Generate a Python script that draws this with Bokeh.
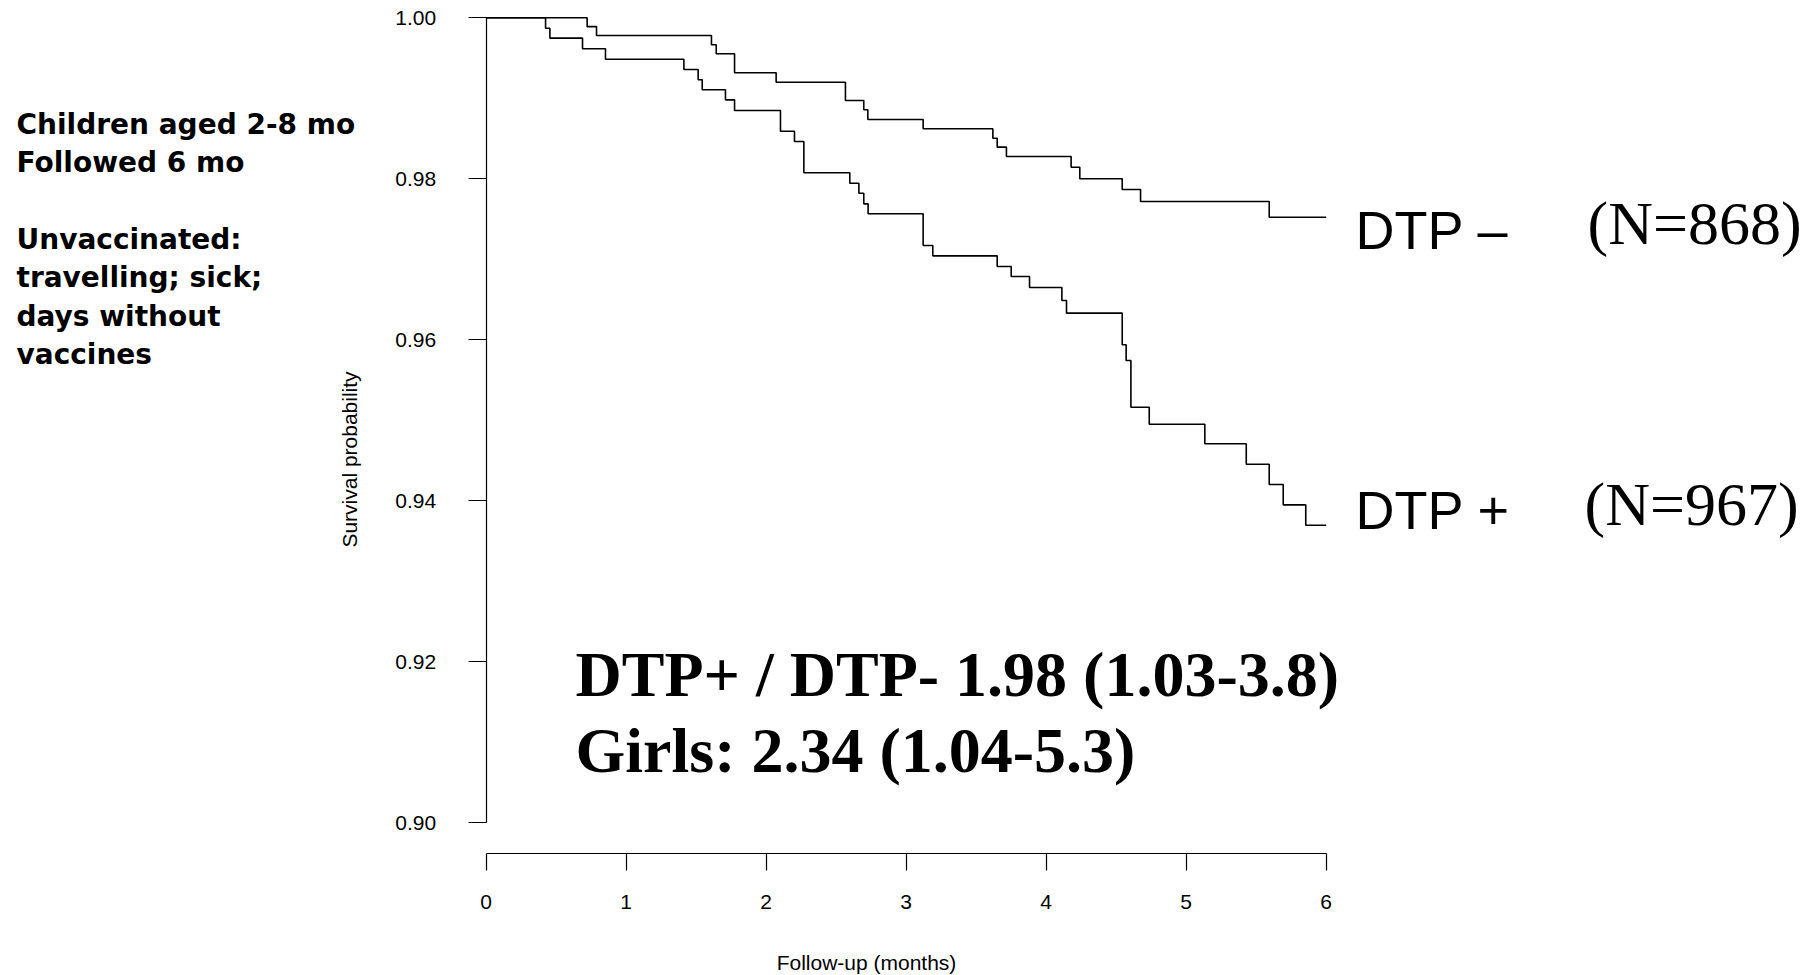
from bokeh.plotting import figure
from bokeh.models import Range1d, FixedTicker, PrintfTickFormatter, Label
from bokeh.embed import file_html
from bokeh.resources import INLINE

# ---- data (Kaplan-Meier step curves) ----
dtp_neg_t = [0, 0.721, 0.788, 1.609, 1.643, 1.774, 2.071, 2.566, 2.697, 2.726,
             3.121, 3.619, 3.650, 3.716, 4.178, 4.240, 4.543, 4.674, 5.593, 6.0]
dtp_neg_s = [1.0, 0.9989, 0.9978, 0.99665, 0.99553, 0.99317, 0.9920, 0.98973, 0.98857, 0.98737,
             0.98621, 0.98504, 0.98393, 0.98277, 0.98144, 0.9800, 0.97867, 0.97718, 0.97523, 0.97523]

dtp_pos_t = [0, 0.424, 0.455, 0.688, 0.852, 1.412, 1.514, 1.543, 1.709, 1.774,
             2.102, 2.202, 2.269, 2.597, 2.662, 2.697, 2.728, 3.121, 3.190, 3.650,
             3.750, 3.881, 4.112, 4.145, 4.543, 4.571, 4.605, 4.736, 5.133, 5.429,
             5.593, 5.693, 5.854, 6.0]
dtp_pos_s = [1.0, 0.99871, 0.99747, 0.99615, 0.99486, 0.99358, 0.9923, 0.99106, 0.98981, 0.98848,
             0.98591, 0.98463, 0.98075, 0.97945, 0.97821, 0.97689, 0.97565, 0.97171, 0.97043, 0.96911,
             0.96787, 0.9665, 0.96488, 0.96331, 0.95938, 0.95743, 0.95163, 0.94952, 0.94708, 0.94455,
             0.94203, 0.9395, 0.93697, 0.93697]

x_ticks = [0, 1, 2, 3, 4, 5, 6]
y_ticks = [0.90, 0.92, 0.94, 0.96, 0.98, 1.00]

side_lines = ["Children aged 2-8 mo", "Followed 6 mo", "",
              "Unvaccinated:", "travelling; sick;", "days without", "vaccines"]
group_labels = ["DTP \u2013", "DTP +"]
group_n = ["(N=868)", "(N=967)"]
hr_lines = ["DTP+ / DTP- 1.98 (1.03-3.8)", "Girls: 2.34 (1.04-5.3)"]

# ---- layout: canvas pixel -> data mapping ----
W, H = 1814, 975
X0_PX, PX_PER_MONTH = 485.7, 140.0
Y1_PX, UNIT_PER_PX = 17.3, 0.00012422


def dx(px):
    return (px - X0_PX) / PX_PER_MONTH


def dy(py):
    return 1.0 - (py - Y1_PX) * UNIT_PER_PX


p = figure(width=W, height=H, output_backend="svg", toolbar_location=None,
           x_range=Range1d(dx(0), dx(W)), y_range=Range1d(dy(H), dy(0)),
           min_border=0)
p.min_border_left = 0
p.min_border_right = 0
p.min_border_top = 0
p.min_border_bottom = 0
p.outline_line_color = None
p.grid.visible = False
p.background_fill_color = "white"
p.border_fill_color = "white"

# curves
p.step(dtp_neg_t, dtp_neg_s, mode="after", line_color="black", line_width=1.6)
p.step(dtp_pos_t, dtp_pos_s, mode="after", line_color="black", line_width=1.6)

# axes (R style: detached, bounded)
xa = p.xaxis[0]
xa.fixed_location = dy(853)
xa.ticker = FixedTicker(ticks=x_ticks)
xa.bounds = (0, 6)
xa.major_tick_out = 17
xa.major_tick_in = 0
xa.minor_tick_out = 0
xa.minor_tick_in = 0
xa.major_label_standoff = 24
xa.major_label_text_font = "Liberation Sans"
xa.major_label_text_font_size = "21px"
xa.major_label_text_color = "black"
xa.axis_line_color = "black"
xa.axis_line_width = 1.2
xa.major_tick_line_color = "black"
xa.major_tick_line_width = 1.2

ya = p.yaxis[0]
ya.fixed_location = 0
ya.ticker = FixedTicker(ticks=y_ticks)
ya.formatter = PrintfTickFormatter(format="%.2f")
ya.bounds = (0.90, 1.00)
ya.major_tick_out = 18
ya.major_tick_in = 0
ya.minor_tick_out = 0
ya.minor_tick_in = 0
ya.major_label_standoff = 32
ya.major_label_text_font = "Liberation Sans"
ya.major_label_text_font_size = "21px"
ya.major_label_text_color = "black"
ya.axis_line_color = "black"
ya.axis_line_width = 1.2
ya.major_tick_line_color = "black"
ya.major_tick_line_width = 1.2


def add_label(text, px, py, font, size, style="normal", align="left",
              baseline="alphabetic", angle=0):
    p.add_layout(Label(x=dx(px), y=dy(py), text=text, text_font=font,
                       text_font_size=size, text_font_style=style,
                       text_align=align, text_baseline=baseline,
                       angle=angle, text_color="black"))


# axis titles
add_label("Survival probability", 349, 459, "Liberation Sans", "21px",
          align="center", baseline="middle", angle=1.5708)
add_label("Follow-up (months)", 866, 962, "Liberation Sans", "21px",
          align="center", baseline="middle")

# side notes
side_baselines = [124, 162.3, 200.6, 239, 277, 315.7, 354]
for line, b in zip(side_lines, side_baselines):
    if line:
        add_label(line, 16, b, "DejaVu Sans", "28px", style="bold")

# group labels
add_label(group_labels[0], 1355, 229, "Liberation Sans", "54px")
add_label(group_labels[1], 1355, 509, "Liberation Sans", "54px")
add_label(group_n[0], 1587, 222, "Liberation Serif", "62px")
add_label(group_n[1], 1584, 503, "Liberation Serif", "62px")

# hazard ratio text
add_label(hr_lines[0], 575, 674, "Liberation Serif", "64px", style="bold")
add_label(hr_lines[1], 575, 749.5, "Liberation Serif", "64px", style="bold")

open("out.html", "w").write(file_html(p, INLINE))
